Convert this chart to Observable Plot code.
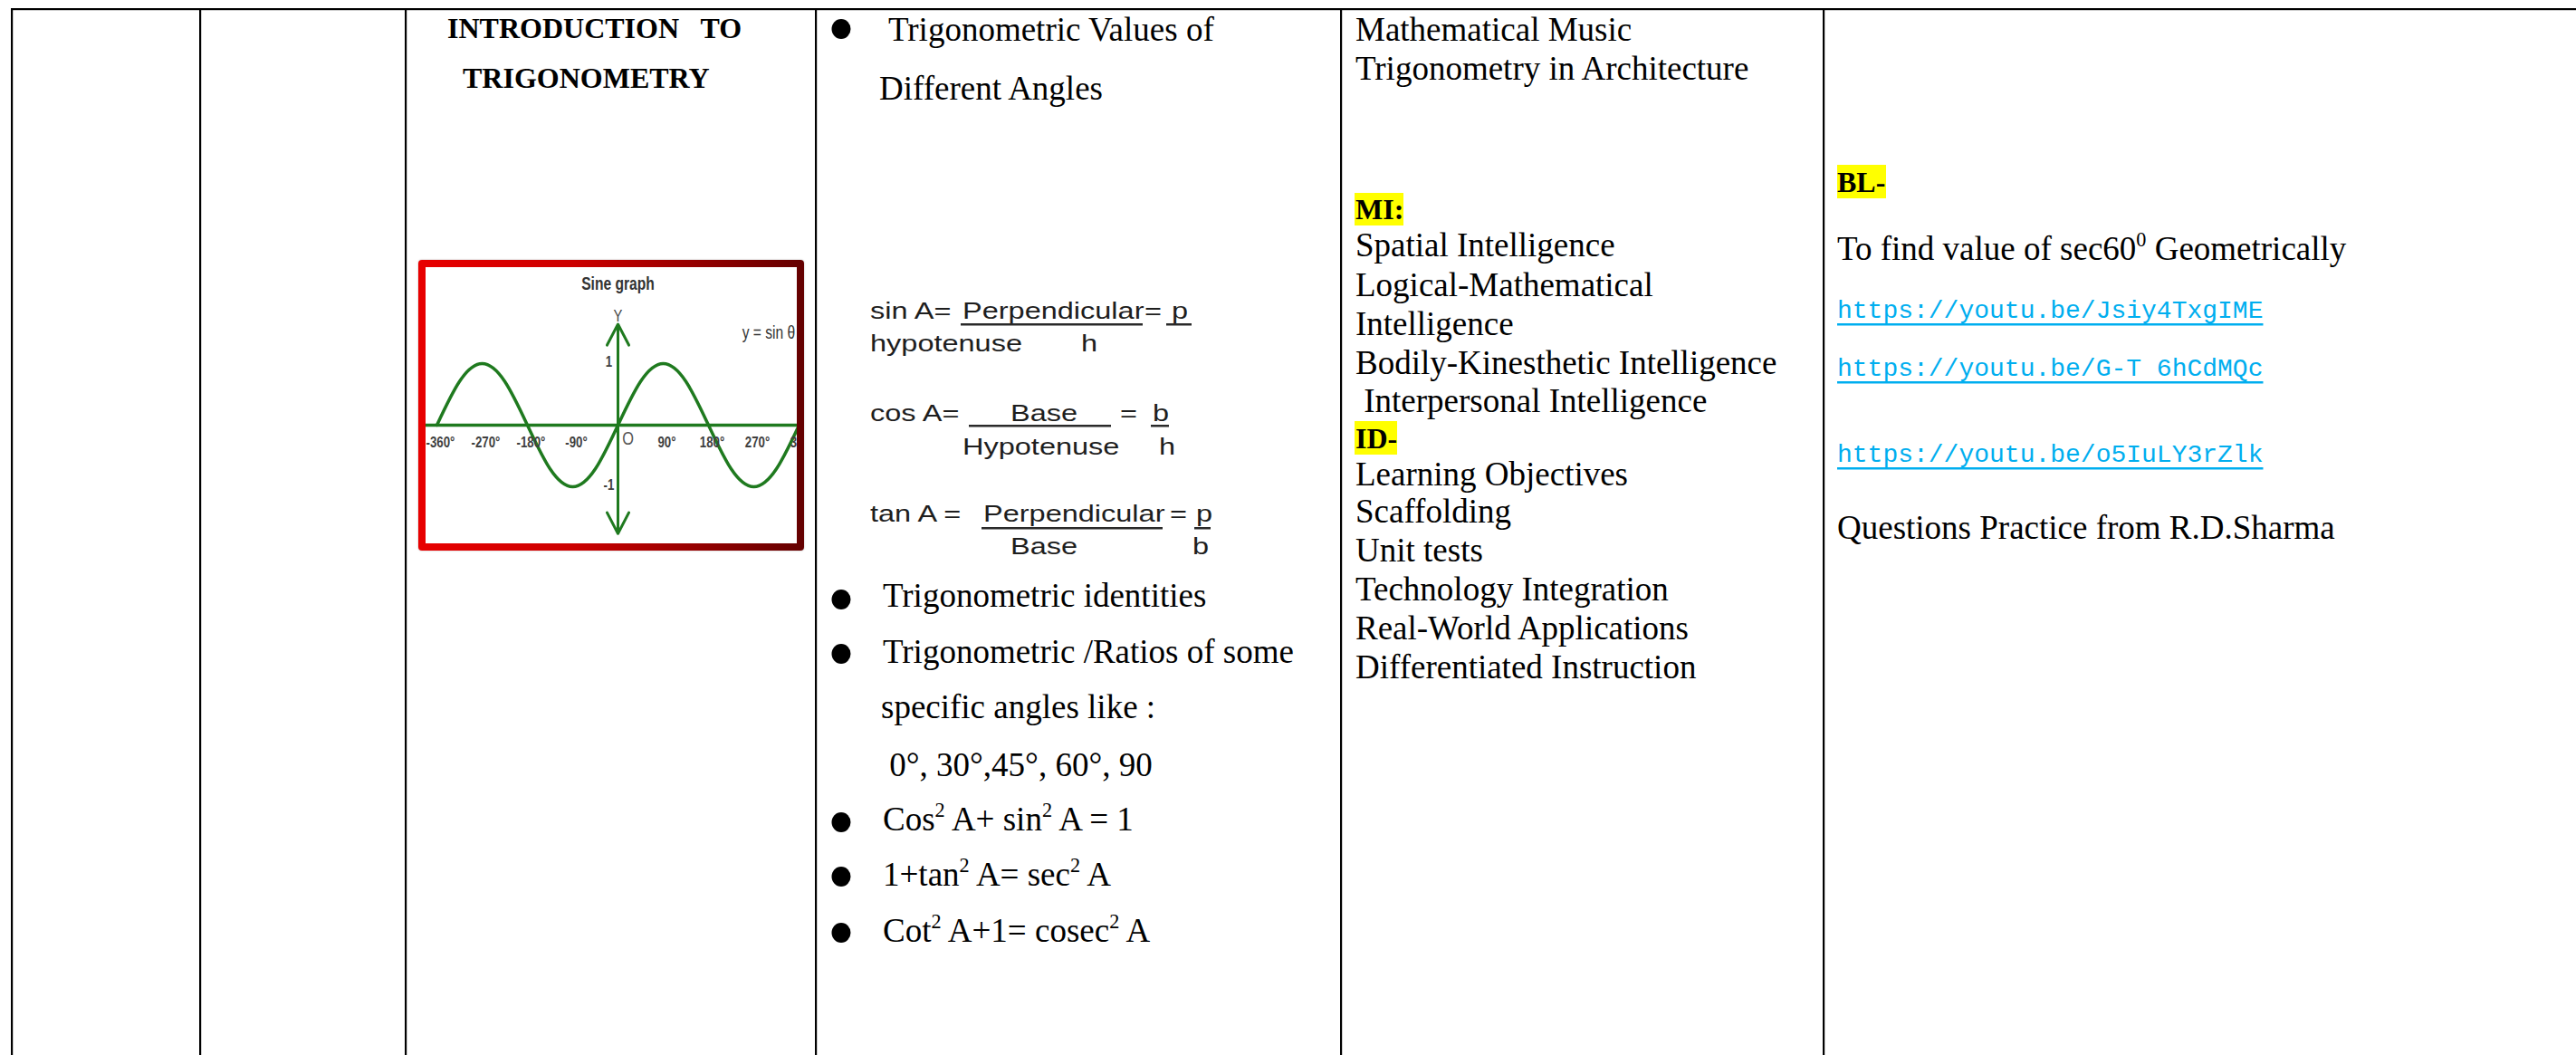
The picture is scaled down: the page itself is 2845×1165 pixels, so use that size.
<!DOCTYPE html>
<html><head><meta charset="utf-8">
<script src="https://cdn.jsdelivr.net/npm/d3@7"></script>
<script src="https://cdn.jsdelivr.net/npm/@observablehq/plot@0.6"></script>
<style>
html,body{margin:0;padding:0;background:#fff;}
#page{position:relative;width:2845px;height:1165px;overflow:hidden;background:#fff;}
#doc{position:absolute;left:0;top:0;}
#frame{position:absolute;left:462px;top:287px;width:426px;height:321px;border-radius:4px;
  background:linear-gradient(to right,#e80000 0%,#cc0000 40%,#950000 72%,#640000 100%);
  box-shadow:0 0 2px rgba(0,0,0,0.35);}
#chart{position:absolute;left:470px;top:295px;width:410px;height:305px;overflow:hidden;background:#fff;}
</style></head><body>
<div id="page"><svg id="doc"></svg><div id="frame"></div><div id="chart"></div></div>
<script>
// ---------- data ----------
const sineAngles = [-360,-315,-270,-225,-180,-135,-90,-45,0,45,90,135,180,225,270,315,360];
const sineValues = [0,0.71,1,0.71,0,-0.71,-1,-0.71,0,0.71,1,0.71,0,-0.71,-1,-0.71,0];
const tickAngles = [-360,-270,-180,-90,90,180,270,360];
const tickLabels = ["-360°","-270°","-180°","-90°","90°","180°","270°","360°"];
const yTickValues = [1,-1];
const yTickLabels = ["1","-1"];
const chartTitle = "Sine graph";
const chartFormula = "y = sin θ";

const topicTitle = ["INTRODUCTION   TO","TRIGONOMETRY"];
const contentTop = ["Trigonometric Values of","Different Angles"];
const formulaLines = [
  ["sin A=","Perpendicular","=","p"],
  ["hypotenuse","h"],
  ["cos A=","Base","=","b"],
  ["Hypotenuse","h"],
  ["tan A =","Perpendicular","=","p"],
  ["Base","b"]
];
const contentBottom = ["Trigonometric identities","Trigonometric /Ratios of some","specific angles like :"," 0°, 30°,45°, 60°, 90","Cos^2 A+ sin^2 A = 1","1+tan^2 A= sec^2 A","Cot^2 A+1= cosec^2 A"];
const applications = ["Mathematical Music","Trigonometry in Architecture"];
const miLabel = "MI:";
const miItems = ["Spatial Intelligence","Logical-Mathematical","Intelligence","Bodily-Kinesthetic Intelligence"," Interpersonal Intelligence"];
const idLabel = "ID-";
const idItems = ["Learning Objectives","Scaffolding","Unit tests","Technology Integration","Real-World Applications","Differentiated Instruction"];
const blLabel = "BL-";
const blTask = "To find value of sec60^0 Geometrically";
const links = ["https://youtu.be/Jsiy4TxgIME","https://youtu.be/G-T 6hCdMQc","https://youtu.be/o5IuLY3rZlk"];
const practice = "Questions Practice from R.D.Sharma";

// ---------- document layer ----------
const SERIF = "'Liberation Serif','Times New Roman',serif";
const SANS = "'Liberation Sans',Arial,sans-serif";
const MONO = "'Liberation Mono','Courier New',monospace";
const svg = d3.select("#doc").attr("width",2845).attr("height",1165);

svg.append("rect").attr("x",13).attr("y",9).attr("width",2832).attr("height",2.2).attr("fill","#000");
[13,221,448,901,1481,2014].forEach(x=>{
  svg.append("rect").attr("x",x-1).attr("y",9).attr("width",2.2).attr("height",1160).attr("fill","#000");
});

function addText(x,y,str,o={}){
  const size=o.size||37;
  const t=svg.append("text")
    .attr("transform",`translate(${x},${y})`+(o.sx?` scale(${o.sx},1)`:""))
    .style("font-family",o.font||SERIF).style("font-size",size+"px")
    .style("font-weight",o.weight||"normal").style("fill",o.fill||"#000")
    .style("white-space","pre");
  const parts=str.split(/\^(.)/);
  let raised=false;
  parts.forEach((p,i)=>{
    if(p==="")return;
    const ts=t.append("tspan").text(p);
    if(i%2===1){ts.attr("dy",-0.4*size).style("font-size",(size*0.6)+"px");raised=true;}
    else if(raised){ts.attr("dy",0.4*size);raised=false;}
  });
  return t;
}
function bullet(cx,cy){svg.append("ellipse").attr("cx",cx).attr("cy",cy).attr("rx",10.5).attr("ry",11).attr("fill","#000");}
function highlight(x,y,w,h){svg.append("rect").attr("x",x).attr("y",y).attr("width",w).attr("height",h).attr("fill","#ffff00");}

// column: topic
addText(494,42,topicTitle[0],{size:32,weight:"bold"});
addText(511,97,topicTitle[1],{size:32,weight:"bold"});

// column: content
bullet(929,32);
addText(981,45,contentTop[0]);
addText(971,110,contentTop[1]);

const fx=[[961,1063,1264,1294],[961,1194],[961,1116,1237,1273],[1063,1280],[961,1086,1292,1321],[1116,1317]];
const fy=[352,388,465,502,576,612];
formulaLines.forEach((row,i)=>row.forEach((s,j)=>addText(fx[i][j],fy[i],s,{font:SANS,size:26,sx:1.25,fill:"#1e1e1e"})));
[[1061,1262,357],[1288,1316,357],[1070,1227,469],[1271,1291,469],[1084,1284,582],[1319,1337,582]]
  .forEach(([a,b,y])=>svg.append("rect").attr("x",a).attr("y",y).attr("width",b-a).attr("height",2.5).attr("fill","#2a2a2a"));

const cbX=[975,975,973,973,975,975,975];
const cbY=[670,732,793,857,917,978,1040];
const cbBullet=[662,722,null,null,908,968,1030];
contentBottom.forEach((s,i)=>{ if(cbBullet[i]!==null) bullet(929,cbBullet[i]); addText(cbX[i],cbY[i],s); });

// column: applications / MI / ID
addText(1497,45,applications[0]);
addText(1497,88,applications[1]);
highlight(1496,213,54,36);
addText(1497,242,miLabel,{size:32,weight:"bold"});
const miY=[283,327,370,413,455];
miItems.forEach((s,i)=>addText(1497,miY[i],s));
highlight(1496,465,47,37);
addText(1497,495,idLabel,{size:32,weight:"bold"});
const idY=[536,577,620,663,706,749];
idItems.forEach((s,i)=>addText(1497,idY[i],s));

// column: BL
highlight(2029,182,54,37);
addText(2029,212,blLabel,{size:32,weight:"bold"});
addText(2029,287,blTask);
const linkY=[351,415,510];
links.forEach((s,i)=>{
  const t=addText(2029,linkY[i],s,{font:MONO,size:28,fill:"#00aeef"});
  const w=t.node().getComputedTextLength();
  svg.append("rect").attr("x",2029).attr("y",linkY[i]+6).attr("width",w).attr("height",2.5).attr("fill","#00aeef");
});
addText(2029,595,practice);

// ---------- sine chart (Observable Plot) ----------
const green="#1f7a1f";
const sine=sineAngles.map((a,i)=>({angle:a,value:sineValues[i]}));
const ticks=tickAngles.map((a,i)=>({angle:a,label:tickLabels[i]}));
const yt=yTickValues.map((v,i)=>({value:v,label:yTickLabels[i]}));
const chart=Plot.plot({
  width:410,height:305,margin:0,
  x:{domain:[-381.6,356.4],axis:null},
  y:{domain:[-1.926,2.559],axis:null},
  style:{background:"white",fontFamily:SANS,overflow:"hidden"},
  marks:[
    Plot.ruleY([0],{stroke:green,strokeWidth:3.5}),
    Plot.arrow([1.64,-1.76],{x1:0,y1:0,x2:0,y2:d=>d,stroke:green,strokeWidth:3,headLength:13,headAngle:55}),
    Plot.line(sine,{x:"angle",y:"value",curve:"natural",stroke:green,strokeWidth:3.5}),
    Plot.text(ticks,{x:"angle",y:0,text:"label",dy:19,dx:4,fontSize:17,fontWeight:"bold",fill:"#404040"}),
    Plot.text(["O"],{x:0,y:0,dx:11,dy:15,fontSize:21,fill:"#555"}),
    Plot.text(yt,{x:0,y:"value",text:"label",dx:-10,dy:-2,fontSize:17,fontWeight:"bold",fill:"#404040"}),
    Plot.text(["Y"],{x:0,y:1.78,fontSize:19,fill:"#444"}),
    Plot.text([chartTitle],{x:0,y:2.29,fontSize:20,fontWeight:"bold",fill:"#333"}),
    Plot.text([chartFormula],{x:247,y:1.5,textAnchor:"start",fontSize:20,fill:"#333"})
  ]
});
// condensed look of the inset's lettering (Arial Narrow style)
d3.select(chart).selectAll("text").each(function(){
  const tr=this.getAttribute("transform");
  if(tr) this.setAttribute("transform",`${tr} scale(0.78,1)`);
});
document.getElementById("chart").appendChild(chart);
</script>
</body></html>
